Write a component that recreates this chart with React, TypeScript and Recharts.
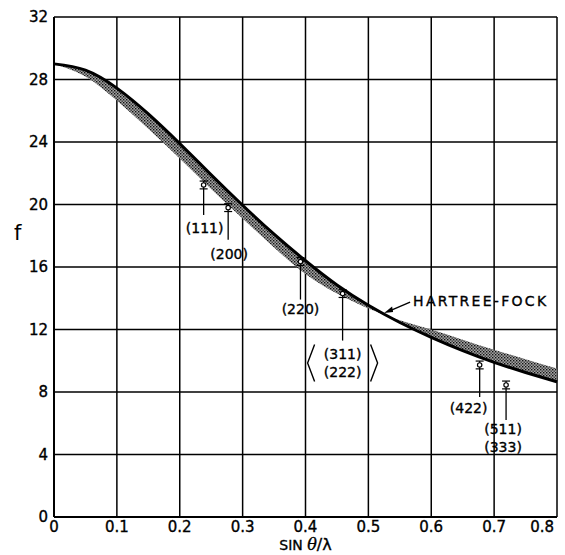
import { ComposedChart, Line, Area, Scatter, ErrorBar, XAxis, YAxis, CartesianGrid, ReferenceDot, Label } from 'recharts';

// sin(theta)/lambda sample points for the curves
const sinThetaOverLambda = [0, 0.05, 0.1, 0.15, 0.2, 0.25, 0.3, 0.35, 0.4, 0.45, 0.5, 0.55, 0.6, 0.65, 0.7, 0.75, 0.8];
// Hartree-Fock scattering factor (heavy line)
const hartreeFock = [29.0, 28.6, 27.45, 25.8, 23.9, 21.9, 19.95, 18.1, 16.4, 14.85, 13.55, 12.45, 11.5, 10.65, 9.9, 9.25, 8.65];
// other edge of the stippled band
const bandEdge = [29.0, 28.2, 26.65, 24.85, 22.95, 21.0, 19.1, 17.25, 15.55, 14.3, 13.35, 12.6, 12.0, 11.35, 10.7, 10.1, 9.5];

// measured reflections
const reflectionNames = ['(111)', '(200)', '(220)', '(311)|(222)', '(422)', '(511)|(333)'];
const reflectionX = [0.238, 0.277, 0.392, 0.459, 0.677, 0.719];
const reflectionF = [21.25, 19.8, 16.35, 14.3, 9.73, 8.45];
const reflectionErr = [0.25, 0.25, 0.25, 0.25, 0.25, 0.25];

const xTicks = [0, 0.1, 0.2, 0.3, 0.4, 0.5, 0.6, 0.7, 0.8];
const yTicks = [0, 4, 8, 12, 16, 20, 24, 28, 32];

const curveName = 'HARTREE-FOCK';
const arrowTip = { x: 0.525, f: 13.05 };

const curveData = sinThetaOverLambda.map((s, i) => ({
  s,
  hf: hartreeFock[i],
  band: [bandEdge[i], hartreeFock[i]],
}));

const pointData = reflectionNames.map((name, i) => ({
  s: reflectionX[i],
  f: reflectionF[i],
  err: reflectionErr[i],
  name,
}));

// leader line length and label offset (px) per reflection
const labelLayout: Record<string, { lead: number; dx: number; dy: number }> = {
  '(111)': { lead: 30, dx: 1, dy: 48 },
  '(200)': { lead: 32, dx: 1, dy: 51 },
  '(220)': { lead: 38, dx: 0, dy: 52 },
  '(311)|(222)': { lead: 47, dx: 0, dy: 65 },
  '(422)': { lead: 32, dx: -11, dy: 48 },
  '(511)|(333)': { lead: 35, dx: -3, dy: 49 },
};

const FONT = '"DejaVu Sans", Roboto, sans-serif';
const INK = { fill: '#000', stroke: '#000', strokeWidth: 0.35 };

const ReflectionMark = (props: any) => {
  const { cx, cy, payload } = props;
  const lay = labelLayout[payload.name];
  const lines: string[] = payload.name.split('|');
  const top = cy + lay.dy - 14;
  const bottom = cy + lay.dy + 18 * (lines.length - 1) + 5;
  return (
    <g>
      <line x1={cx} y1={cy + 4} x2={cx} y2={cy + lay.lead} stroke="#000" strokeWidth={1.3} />
      <circle cx={cx} cy={cy} r={2.2} fill="#fff" stroke="#000" strokeWidth={1.2} />
      {lines.map((t, i) => (
        <text key={t} x={cx + lay.dx} y={cy + lay.dy + i * 18} textAnchor="middle" fontFamily={FONT} fontSize={14} {...INK}>
          {t}
        </text>
      ))}
      {payload.name === '(311)|(222)' && (
        <g fill="none" stroke="#000" strokeWidth={1.4}>
          <polyline points={`${cx - 28},${top} ${cx - 35},${(top + bottom) / 2} ${cx - 28},${bottom}`} />
          <polyline points={`${cx + 28},${top} ${cx + 35},${(top + bottom) / 2} ${cx + 28},${bottom}`} />
        </g>
      )}
    </g>
  );
};

const CurveTag = (props: any) => {
  const { cx, cy } = props;
  const ex = cx + 26;
  const ey = cy - 11;
  return (
    <g>
      <line x1={cx + 5} y1={cy - 2} x2={ex} y2={ey} stroke="#000" strokeWidth={1.4} />
      <polygon points={`${cx},${cy} ${cx + 8},${cy - 6.5} ${cx + 9},${cy - 1}`} fill="#000" />
      <text x={ex + 3} y={cy - 7} fontFamily={FONT} fontSize={14} {...INK} textLength={133} lengthAdjust="spacing">
        {curveName}
      </text>
    </g>
  );
};

const XTitle = (props: any) => {
  const { viewBox } = props;
  const x = viewBox.x + viewBox.width / 2;
  return (
    <text x={x} y={viewBox.y + 33} textAnchor="middle" fontFamily={FONT} {...INK}>
      <tspan fontSize={14}>SIN </tspan>
      <tspan fontSize={16} fontStyle="italic" fontFamily='"DejaVu Serif", serif'>θ</tspan>
      <tspan fontSize={16}>/λ</tspan>
    </text>
  );
};

const XTick = (props: any) => {
  const { x, y, payload } = props;
  const last = payload.value === xTicks[xTicks.length - 1];
  return (
    <text x={last ? x - 1 : x} y={y} dy="0.71em" textAnchor={last ? 'end' : 'middle'} fontFamily={FONT} fontSize={15} {...INK}>
      {payload.value === 0 ? '0' : String(payload.value)}
    </text>
  );
};

const tickStyle = { fontSize: 15, fontFamily: FONT, ...INK };

export default function App() {
  return (
    <div style={{ position: 'absolute', left: 0, top: 0, width: 565, height: 555, background: '#fff' }}>
      <ComposedChart width={565} height={555} margin={{ top: 17, right: 8, bottom: 0, left: 14 }}>
        <defs>
          <pattern id="stipple" width="3" height="3" patternUnits="userSpaceOnUse">
            <rect width="3" height="3" fill="#a4a4a4" />
            <rect x="0" y="0" width="1.4" height="1.4" fill="#111" />
            <rect x="1.5" y="1.5" width="1.4" height="1.4" fill="#333" />
          </pattern>
        </defs>
        <CartesianGrid stroke="#000" strokeWidth={1.5} horizontalValues={yTicks} verticalValues={xTicks} />
        <XAxis
          type="number"
          dataKey="s"
          domain={[0, 0.8]}
          ticks={xTicks}
          tick={<XTick />}
          tickLine={false}
          tickSize={0}
          tickMargin={4}
          axisLine={{ stroke: '#000', strokeWidth: 2 }}
          height={38}
          allowDuplicatedCategory={false}
        >
          <Label content={<XTitle />} />
        </XAxis>
        <YAxis
          type="number"
          domain={[0, 32]}
          ticks={yTicks}
          tick={tickStyle}
          tickLine={false}
          tickSize={0}
          tickMargin={6}
          axisLine={{ stroke: '#000', strokeWidth: 2 }}
          width={40}
          label={{ value: 'f', position: 'insideLeft', offset: 0, fill: '#000', fontSize: 21, fontFamily: FONT, dy: -34 }}
        />
        <Area
          data={curveData}
          dataKey="band"
          type="natural"
          stroke="none"
          fill="url(#stipple)"
          fillOpacity={1}
          isAnimationActive={false}
        />
        <Line
          data={curveData}
          dataKey="hf"
          type="natural"
          stroke="#000"
          strokeWidth={3}
          dot={false}
          isAnimationActive={false}
        />
        <Scatter data={pointData} dataKey="f" shape={<ReflectionMark />} isAnimationActive={false}>
          <ErrorBar dataKey="err" direction="y" width={4} stroke="#000" strokeWidth={1.2} />
        </Scatter>
        <ReferenceDot x={arrowTip.x} y={arrowTip.f} shape={<CurveTag />} ifOverflow="visible" />
      </ComposedChart>
    </div>
  );
}
